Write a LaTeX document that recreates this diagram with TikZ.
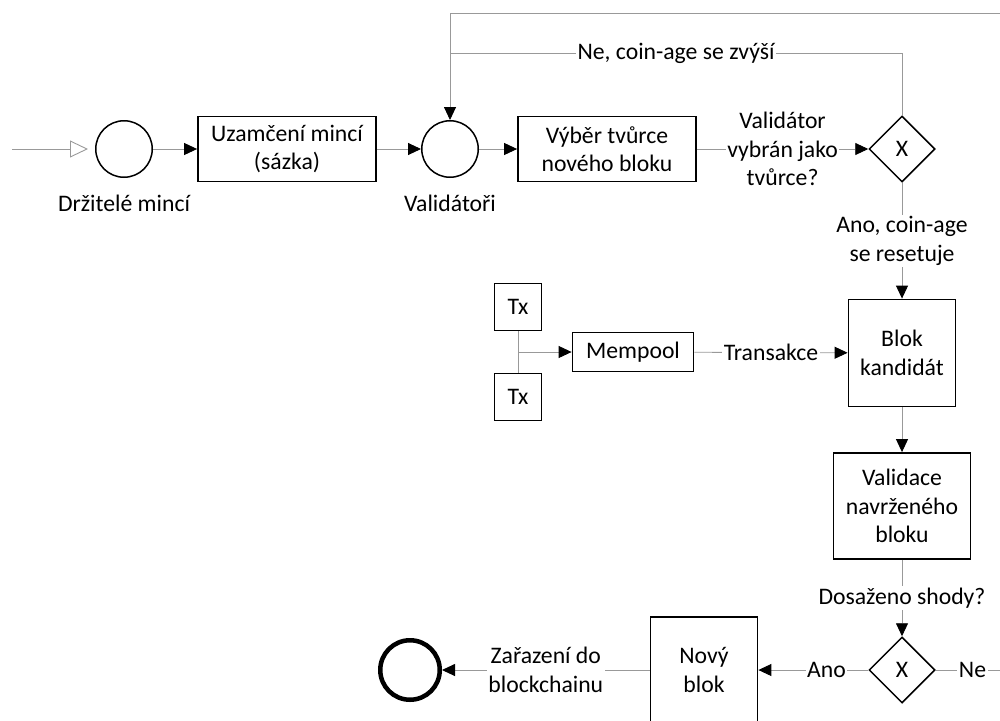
\documentclass[tikz,border=0pt]{standalone}
\usepackage{fontspec}
\setmainfont{Carlito}
\usetikzlibrary{arrows.meta,positioning,shapes.geometric}

\begin{document}
\begin{tikzpicture}[x=1pt,y=-1pt,
    every node/.style={font=\fontsize{23.7}{28.5}\selectfont},
    task/.style 2 args={draw,line width=1.8pt,align=center,inner sep=0pt,
      minimum width=#1,minimum height=#2},
    event/.style={circle,draw,line width=1.5pt,minimum size=56.5pt,inner sep=0pt},
    endevent/.style={circle,draw,line width=4.5pt,minimum size=59.5pt,inner sep=0pt},
    gate/.style={diamond,draw,line width=1.5pt,minimum size=66pt,inner sep=0pt},
    line/.style={draw=gray!80,line width=0.9pt},
    flow/.style={line,-{Triangle[length=13pt,width=12pt,color=black]}},
    startflow/.style={line,-{Triangle[open,length=18pt,width=17pt]}},
    lbl/.style={fill=white,inner sep=1.5pt,align=center}]
    \useasboundingbox (0,0) rectangle (1000,720);
    \clip (0,0) rectangle (1000,720);

    % upper row
    \coordinate (src) at (12,149);
    \node[event] (holders) at (124,149) {};
    \node at (124,203) {Držitelé mincí};
    \node[task={178pt}{65pt}] (lock) at (287,149) {Uzamčení mincí\\(sázka)};
    \node[event] (validators) at (450,149) {};
    \node at (450,203) {Validátoři};
    \node[task={178pt}{65pt}] (select) at (607,149) {Výběr tvůrce\\nového bloku};
    \node[gate] (gw1) at (902,149) {X};

    % transactions
    \node[task={47pt}{47pt}] (tx1) at (518,307) {Tx};
    \node[task={47pt}{47pt}] (tx2) at (518,397) {Tx};
    \node[task={121pt}{39pt}] (mempool) at (633,352) {Mempool};
    \coordinate (txjoin) at (518,352);

    % right column
    \node[task={107pt}{107pt}] (candidate) at (902,353) {Blok\\kandidát};
    \node[task={137pt}{106pt}] (validation) at (902,506) {Validace\\navrženého\\bloku};
    \node[gate] (gw2) at (902,670) {X};
    \node[task={107pt}{106pt}] (newblock) at (704,670) {Nový\\blok};
    \node[endevent] (done) at (410,670) {};

    % loop-back points
    \coordinate (loopA) at (450,53);
    \coordinate (loopB) at (450,13);
    \coordinate (rim) at (1030,670);

    % connectors
    \draw[startflow] (src) -- ([xshift=-7pt]holders.west);
    \draw[flow] (holders) -- (lock);
    \draw[flow] (lock) -- (validators);
    \draw[flow] (validators) -- (select);
    \draw[flow] (select) -- node[lbl] {Validátor\\vybrán jako\\tvůrce?} (gw1);
    \draw[line] (gw1.north) |- node[lbl,pos=0.75] {Ne, coin-age se zvýší} (loopA);
    \draw[flow] (gw2.east) -- node[lbl,pos=0.39] {Ne} (rim) |- (loopB) -- (validators.north);
    \draw[flow] (gw1.south) -- node[lbl] {Ano, coin-age\\se resetuje} (candidate.north);
    \draw[line] (tx1.south) -- (tx2.north);
    \draw[flow] (txjoin) -- (mempool.west);
    \draw[flow] (mempool) -- node[lbl] {Transakce} (candidate);
    \draw[flow] (candidate) -- (validation);
    \draw[flow] (validation) -- node[lbl] {Dosaženo shody?} (gw2);
    \draw[flow] (gw2) -- node[lbl,pos=0.38] {Ano} (newblock);
    \draw[flow] (newblock) -- node[lbl] {Zařazení do\\blockchainu} (done);
  \end{tikzpicture}
\end{document}
